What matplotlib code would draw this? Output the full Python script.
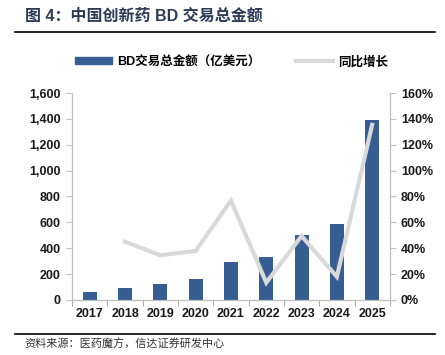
import matplotlib
matplotlib.use("Agg")
import matplotlib.pyplot as plt
from matplotlib.lines import Line2D
from matplotlib.patches import Patch
import numpy as np

plt.rcParams['font.family'] = ['Liberation Sans', 'Noto Sans CJK SC', 'DejaVu Sans']

years = ['2017', '2018', '2019', '2020', '2021', '2022', '2023', '2024', '2025']
amounts = [60, 90, 121, 165, 292, 333, 503, 588, 1388]
growth = [None, 45, 34.6, 37.9, 76.9, 13.4, 49.5, 18.0, 135.4]

left_ticks = [0, 200, 400, 600, 800, 1000, 1200, 1400, 1600]
right_ticks = [0, 20, 40, 60, 80, 100, 120, 140, 160]

bar_color = '#375E93'
line_color = '#D9D9D9'
title_color = '#2B3A55'

fig = plt.figure(figsize=(4.45, 3.55), dpi=100)
ax = fig.add_axes([0.162, 0.155, 0.714, 0.583])
ax2 = ax.twinx()

x = np.arange(len(years))
ax.bar(x, amounts, width=0.4, color=bar_color, zorder=2)
gx = [i for i, g in enumerate(growth) if g is not None]
gy = [g for g in growth if g is not None]
ax2.plot(gx, gy, color=line_color, lw=3, zorder=3, solid_joinstyle='miter')

ax.set_xlim(-0.5, len(years) - 0.5)
ax.set_ylim(0, 1600)
ax2.set_ylim(0, 160)
ax.set_yticks(left_ticks)
ax.set_yticklabels([f'{v:,}' for v in left_ticks])
ax2.set_yticks(right_ticks)
ax2.set_yticklabels([f'{v}%' for v in right_ticks])
ax.set_xticks(x)
ax.set_xticklabels(years)
ax.set_xticks(np.arange(-0.5, len(years)), minor=True)

for a in (ax, ax2):
    a.spines['top'].set_visible(False)
    for s in ('left', 'right', 'bottom'):
        a.spines[s].set_color('#BFBFBF')
        a.spines[s].set_linewidth(0.8)

ax.tick_params(axis='x', which='major', length=0, pad=6)
ax.tick_params(axis='x', which='minor', length=4, color='#999999', direction='out')
ax.tick_params(axis='y', length=4, color='#BFBFBF', pad=4)
ax2.tick_params(axis='y', length=4, color='#BFBFBF', pad=4)
for lab in ax.get_xticklabels() + ax.get_yticklabels() + ax2.get_yticklabels():
    lab.set_fontsize(9)
    lab.set_fontweight('bold')
    lab.set_color('#1A1A1A')
ax.set_zorder(ax2.get_zorder() - 1)
ax2.patch.set_visible(False)

handles = [Patch(color=bar_color), Line2D([0], [0], color=line_color, lw=3)]
leg = fig.legend(handles, ['BD交易总金额（亿美元）', '同比增长'],
                 loc='center', bbox_to_anchor=(0.52, 0.825), ncol=2, frameon=False,
                 handlelength=3.0, handleheight=0.5, columnspacing=2.8, handletextpad=0.4,
                 prop={'family': ['Liberation Sans', 'Noto Sans CJK SC'], 'weight': 'bold', 'size': 9})

fig.text(0.056, 0.955, '图 4：中国创新药 BD 交易总金额', fontsize=11.5, fontweight='bold',
         color=title_color, va='center', ha='left',
         family=['Liberation Sans', 'Noto Sans CJK SC'])
fig.add_artist(Line2D([0.034, 0.978], [0.911, 0.911], color='black', lw=1.2))
fig.add_artist(Line2D([0.034, 0.978], [0.06, 0.06], color='black', lw=1.2))
fig.text(0.056, 0.03, '资料来源：医药魔方，信达证券研发中心', fontsize=8, color='#333333',
         va='center', ha='left', style='italic', family=['Noto Sans CJK SC', 'DejaVu Sans'])

fig.savefig('out.png', dpi=100)
